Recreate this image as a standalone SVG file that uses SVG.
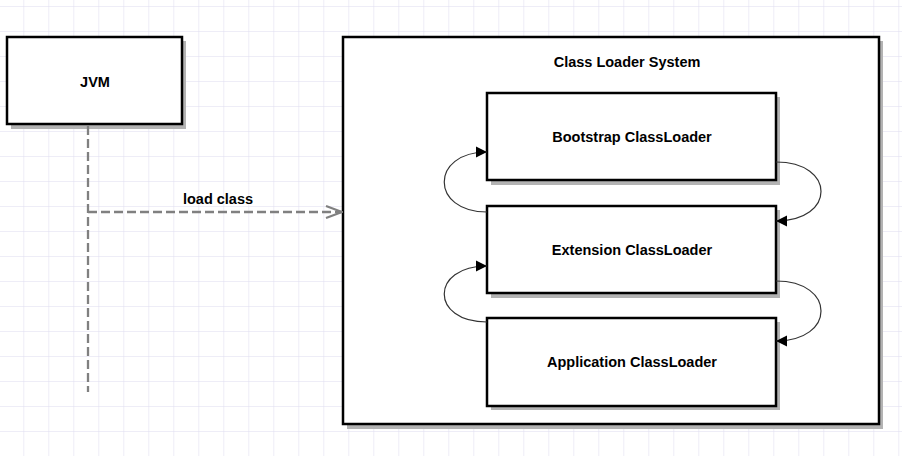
<svg xmlns="http://www.w3.org/2000/svg" width="902" height="456" viewBox="0 0 902 456">
<defs>
<pattern id="grid" x="23.3" y="6" width="25" height="25" patternUnits="userSpaceOnUse">
<path d="M0,0 H25 M0,0 V25" fill="none" stroke="#dddbef" stroke-width="1"/>
</pattern>
<marker id="tri" viewBox="0 0 10 10" refX="10" refY="5" markerWidth="11" markerHeight="12" markerUnits="userSpaceOnUse" orient="auto">
<path d="M0,0 L10,5 L0,10 Z" fill="#000"/>
</marker>
<marker id="open" viewBox="0 0 18 14" refX="17" refY="7" markerWidth="18" markerHeight="14" markerUnits="userSpaceOnUse" orient="auto">
<path d="M1,1 L17,7 L1,13" fill="none" stroke="#808080" stroke-width="2.2"/>
</marker>
</defs>
<style>
.box{fill:#fff;stroke:#000;stroke-width:2.5}
.shadow{fill:#b3b3b3}
.lbl{font-family:"Liberation Sans",Arial,sans-serif;font-weight:bold;font-size:14.5px;fill:#000;text-anchor:middle}
.dash{fill:none;stroke:#808080;stroke-width:2.3;stroke-dasharray:9 4}
.curve{fill:none;stroke:#333;stroke-width:1.2}
</style>
<rect width="902" height="456" fill="#fff"/>
<rect width="902" height="456" fill="url(#grid)"/>

<g id="jvm">
<rect class="shadow" x="11" y="41" width="175" height="88"/>
<rect class="box" x="7" y="37" width="175" height="87"/>
<text class="lbl" x="95" y="87">JVM</text>
</g>

<g id="class-loader-system">
<rect class="shadow" x="347" y="41" width="536" height="388"/>
<rect class="box" x="343" y="37" width="536" height="387"/>
<text class="lbl" x="627" y="67">Class Loader System</text>
</g>

<g id="bootstrap">
<rect class="shadow" x="491" y="97" width="289" height="88"/>
<rect class="box" x="487" y="93" width="289" height="87"/>
<text class="lbl" x="632" y="142">Bootstrap ClassLoader</text>
</g>

<g id="extension">
<rect class="shadow" x="491" y="210" width="289" height="88"/>
<rect class="box" x="487" y="206" width="289" height="87"/>
<text class="lbl" x="632" y="255">Extension ClassLoader</text>
</g>

<g id="application">
<rect class="shadow" x="491" y="322" width="289" height="88"/>
<rect class="box" x="487" y="318" width="289" height="88"/>
<text class="lbl" x="632" y="367">Application ClassLoader</text>
</g>

<g id="connectors">
<path class="dash" d="M88,126 V392"/>
<path class="dash" d="M88,212 H342" marker-end="url(#open)"/>
<text class="lbl" x="218" y="204">load class</text>
<path class="curve" d="M487,212 C430,212 430,152 487,152" marker-end="url(#tri)"/>
<path class="curve" d="M487,322 C430,322 430,266 487,266" marker-end="url(#tri)"/>
<path class="curve" d="M776,162 C836,162 836,221 776,221" marker-end="url(#tri)"/>
<path class="curve" d="M776,281 C836,281 836,341 776,341" marker-end="url(#tri)"/>
</g>
</svg>
